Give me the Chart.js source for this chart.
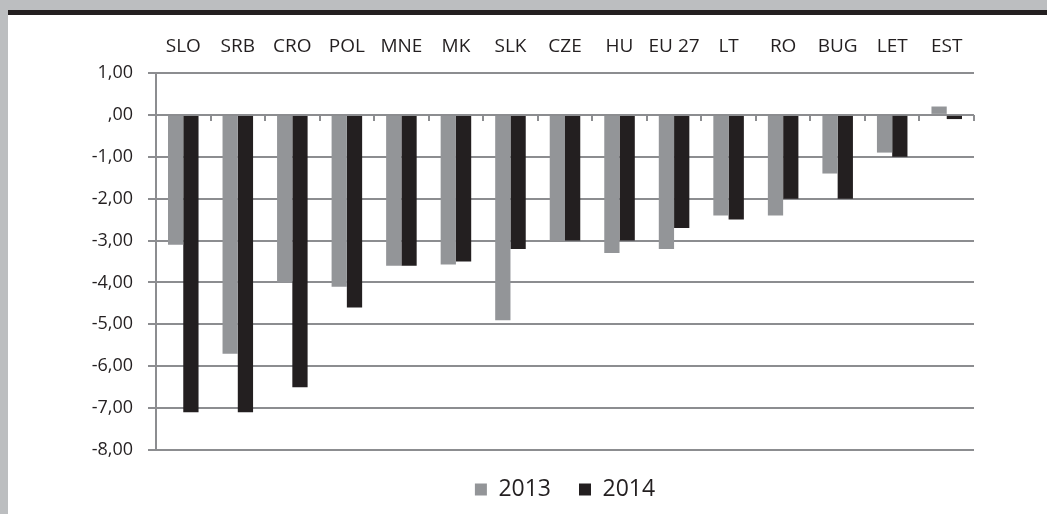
<!DOCTYPE html>
<html lang="en">
<head>
    <meta charset="UTF-8">
    <title>Budget balance 2013 / 2014</title>
    <script src="https://cdn.jsdelivr.net/npm/chart.js"></script>
    <style>
        body { margin: 0; padding: 0; width: 1047px; height: 514px; background: #fff; position: relative; overflow: hidden; font-family: 'Open Sans', sans-serif; }
        .banner { position: absolute; left: 0; top: 0; width: 1047px; height: 10px; background: #bcbec0; }
        .rule { position: absolute; left: 8px; top: 10px; width: 1039px; height: 5px; background: #231f20; }
        .strip { position: absolute; left: 0; top: 0; width: 8px; height: 514px; background: #bcbec0; }
        .wrap { position: absolute; left: 8px; top: 15px; width: 1039px; height: 499px; }
    </style>
</head>
<body>
    <div class="banner"></div>
    <div class="rule"></div>
    <div class="strip"></div>
    <div class="wrap">
        <canvas id="myChart" width="1039" height="499"></canvas>
    </div>

    <script>
        // values
        const countries = ['SLO', 'SRB', 'CRO', 'POL', 'MNE', 'MK', 'SLK', 'CZE', 'HU', 'EU 27', 'LT', 'RO', 'BUG', 'LET', 'EST'];
        const values2013 = [-3.1, -5.7, -4.0, -4.1, -3.6, -3.57, -4.9, -3.0, -3.3, -3.2, -2.4, -2.4, -1.4, -0.9, 0.2];
        const values2014 = [-7.1, -7.1, -6.5, -4.6, -3.6, -3.5, -3.2, -3.0, -3.0, -2.7, -2.5, -2.0, -2.0, -1.0, -0.1];
        const yMin = -8, yMax = 1;

        const gridGray = '#8c8d90';
        const textDark = '#231f20';

        // little tick marks on the zero line between the categories
        const zeroTicks = {
            id: 'zeroTicks',
            afterDatasetsDraw: chart => {
                const ctx = chart.ctx;
                const xs = chart.scales.x;
                const y0 = chart.scales.y.getPixelForValue(0);
                const w = (xs.right - xs.left) / countries.length;
                ctx.save();
                ctx.strokeStyle = gridGray;
                ctx.lineWidth = 2;
                for (let i = 1; i <= countries.length; i++) {
                    const x = Math.round(xs.left + i * w);
                    ctx.beginPath();
                    ctx.moveTo(x, y0);
                    ctx.lineTo(x, y0 + 6);
                    ctx.stroke();
                }
                ctx.restore();
            }
        };

        const ctx = document.getElementById('myChart').getContext('2d');
        new Chart(ctx, {
            type: 'bar',
            data: {
                labels: countries,
                datasets: [{
                    label: '2013',
                    data: values2013,
                    backgroundColor: '#939598',
                    borderWidth: 0,
                    categoryPercentage: 0.56,
                    barPercentage: 1.0
                }, {
                    label: '2014',
                    data: values2014,
                    backgroundColor: '#231f20',
                    borderWidth: 0,
                    categoryPercentage: 0.56,
                    barPercentage: 1.0
                }]
            },
            options: {
                responsive: false,
                animation: false,
                layout: { padding: { left: 0, right: 73, top: 0, bottom: 3 } },
                scales: {
                    x: {
                        position: 'top',
                        grid: { display: false, drawTicks: false },
                        border: { display: false },
                        ticks: {
                            color: textDark,
                            font: { family: 'Open Sans', size: 19 },
                            padding: 15,
                            maxRotation: 0,
                            autoSkip: false
                        },
                        afterFit: scale => { scale.height = 58; }
                    },
                    y: {
                        min: yMin,
                        max: yMax,
                        ticks: {
                            stepSize: 1,
                            color: textDark,
                            font: { family: 'Open Sans', size: 18 },
                            padding: 15,
                            callback: v => v === 0 ? ',00' : v.toFixed(2).replace('.', ',')
                        },
                        grid: { color: gridGray, lineWidth: 2, tickLength: 8 },
                        border: { color: gridGray, width: 2 },
                        afterFit: scale => { scale.width = 148; }
                    }
                },
                plugins: {
                    legend: {
                        position: 'bottom',
                        fullSize: false,
                        labels: {
                            color: textDark,
                            font: { family: 'Open Sans', size: 23 },
                            boxWidth: 12,
                            boxHeight: 12,
                            padding: 28
                        }
                    },
                    tooltip: { enabled: false }
                }
            },
            plugins: [zeroTicks]
        });
    </script>
</body>
</html>
